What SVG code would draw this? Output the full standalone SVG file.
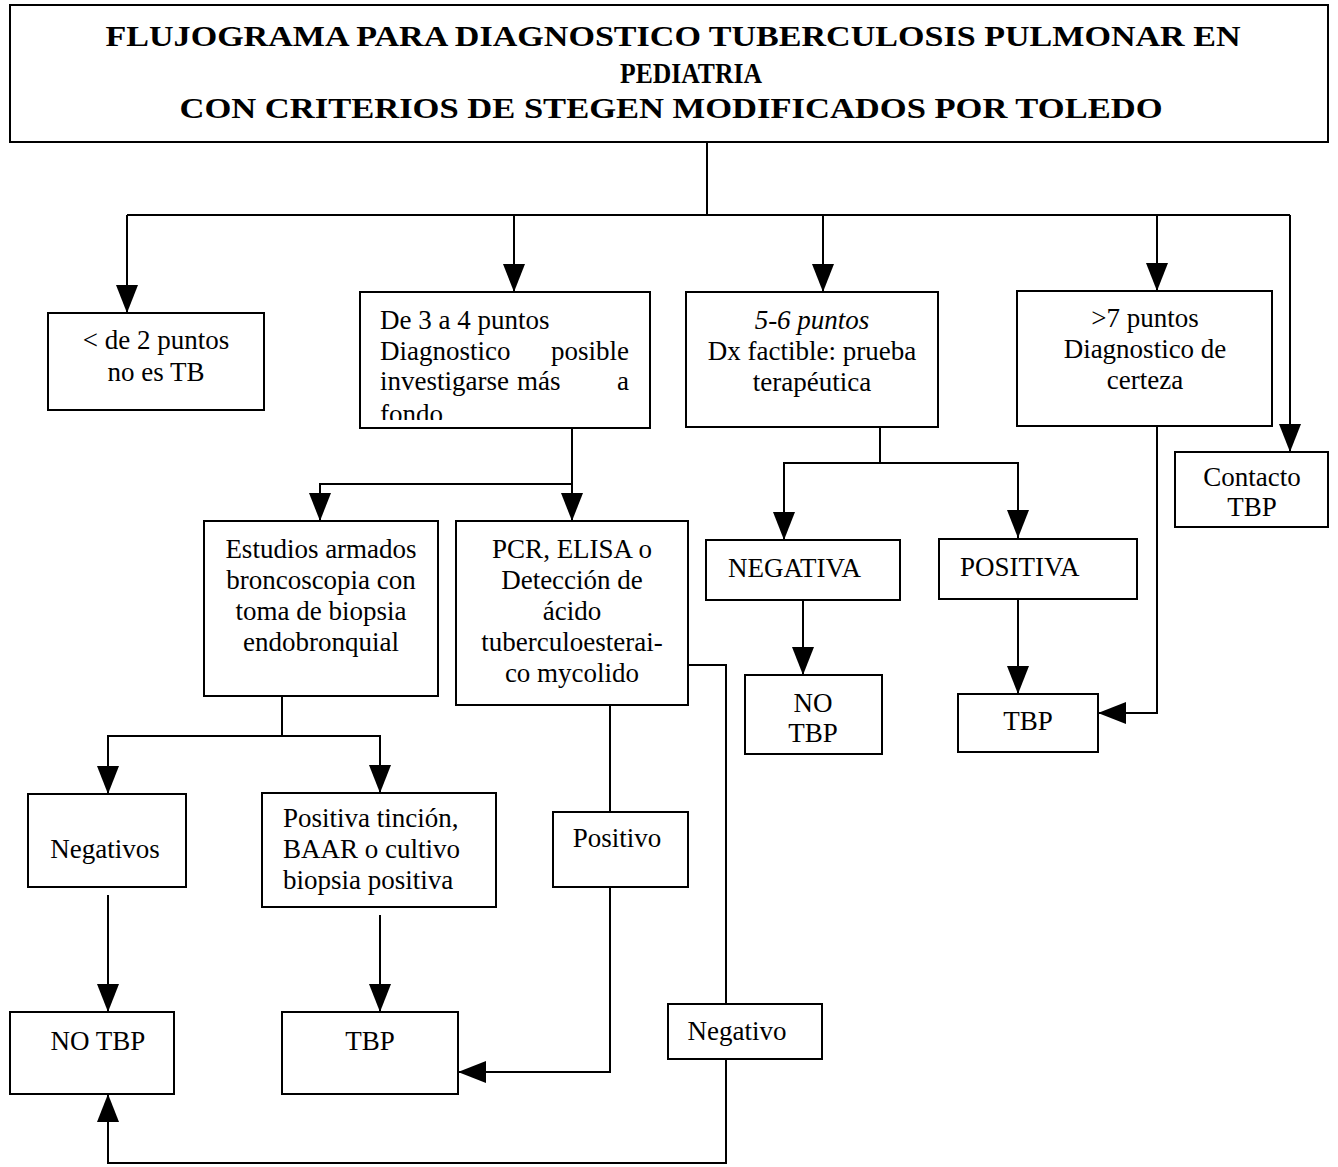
<svg xmlns="http://www.w3.org/2000/svg" width="1338" height="1167" viewBox="0 0 1338 1167">
<style>
.box{fill:#fff;stroke:#000;stroke-width:2}
.t{font-family:"Liberation Serif","Times New Roman",serif;font-size:27px;fill:#000}
.c{text-anchor:middle}
.title{font-family:"Liberation Serif","Times New Roman",serif;font-weight:bold;font-size:30px;fill:#000;text-anchor:middle}
.ln{fill:none;stroke:#000;stroke-width:2}
</style>
<defs>
<marker id="ar" viewBox="0 0 28 22" refX="28" refY="11" markerWidth="28" markerHeight="22" markerUnits="userSpaceOnUse" orient="auto">
<path d="M0,0 L28,11 L0,22 z" fill="#000"/>
</marker>
<clipPath id="clip2"><rect x="360" y="292" width="290" height="128"/></clipPath>
</defs>
<rect width="1338" height="1167" fill="#fff"/>

<g id="title">
<rect class="box" x="10" y="5" width="1318" height="137"/>
<text class="title" x="673" y="46" textLength="1135" lengthAdjust="spacingAndGlyphs">FLUJOGRAMA PARA DIAGNOSTICO TUBERCULOSIS PULMONAR EN</text>
<text class="title" x="691" y="83" textLength="142" lengthAdjust="spacingAndGlyphs">PEDIATRIA</text>
<text class="title" x="671" y="118" textLength="983" lengthAdjust="spacingAndGlyphs">CON CRITERIOS DE STEGEN MODIFICADOS POR TOLEDO</text>
</g>

<g id="connectors">
<path class="ln" d="M707,142 V215"/>
<path class="ln" d="M127,215 H1290"/>
<path class="ln" d="M127,215 V313" marker-end="url(#ar)"/>
<path class="ln" d="M514,215 V292" marker-end="url(#ar)"/>
<path class="ln" d="M823,215 V292" marker-end="url(#ar)"/>
<path class="ln" d="M1157,215 V291" marker-end="url(#ar)"/>
<path class="ln" d="M1290,215 V452" marker-end="url(#ar)"/>
<path class="ln" d="M572,428 V521" marker-end="url(#ar)"/>
<path class="ln" d="M572,484 H320 V521" marker-end="url(#ar)"/>
<path class="ln" d="M880,427 V463"/>
<path class="ln" d="M880,463 H784 V540" marker-end="url(#ar)"/>
<path class="ln" d="M880,463 H1018 V538" marker-end="url(#ar)"/>
<path class="ln" d="M803,600 V675" marker-end="url(#ar)"/>
<path class="ln" d="M1018,599 V694" marker-end="url(#ar)"/>
<path class="ln" d="M1157,426 V713 H1098" marker-end="url(#ar)"/>
<path class="ln" d="M282,696 V736"/>
<path class="ln" d="M282,736 H108 V794" marker-end="url(#ar)"/>
<path class="ln" d="M282,736 H380 V793" marker-end="url(#ar)"/>
<path class="ln" d="M108,895 V1012" marker-end="url(#ar)"/>
<path class="ln" d="M380,915 V1012" marker-end="url(#ar)"/>
<path class="ln" d="M610,705 V812"/>
<path class="ln" d="M610,887 V1072 H458" marker-end="url(#ar)"/>
<path class="ln" d="M688,665 H726 V1004"/>
<path class="ln" d="M726,1059 V1163 H108 V1094" marker-end="url(#ar)"/>
</g>

<g id="n-menos2">
<rect class="box" x="48" y="313" width="216" height="97"/>
<text class="t c" x="156" y="349">&lt; de 2 puntos</text>
<text class="t c" x="156" y="381">no es TB</text>
</g>

<g id="n-3a4">
<rect class="box" x="360" y="292" width="290" height="136"/>
<text class="t" x="380" y="329">De 3 a 4 puntos</text>
<text class="t" x="380" y="360">Diagnostico</text>
<text class="t" x="629" y="360" text-anchor="end">posible</text>
<text class="t" x="380" y="390">investigarse</text>
<text class="t" x="517" y="390">más</text>
<text class="t" x="629" y="390" text-anchor="end">a</text>
<text class="t" x="380" y="423" clip-path="url(#clip2)">fondo</text>
</g>

<g id="n-5a6">
<rect class="box" x="686" y="292" width="252" height="135"/>
<text class="t c" x="812" y="329" font-style="italic">5-6 puntos</text>
<text class="t c" x="812" y="360">Dx factible: prueba</text>
<text class="t c" x="812" y="391">terapéutica</text>
</g>

<g id="n-mas7">
<rect class="box" x="1017" y="291" width="255" height="135"/>
<text class="t c" x="1145" y="327">&gt;7 puntos</text>
<text class="t c" x="1145" y="358">Diagnostico de</text>
<text class="t c" x="1145" y="389">certeza</text>
</g>

<g id="n-contacto">
<rect class="box" x="1175" y="452" width="153" height="75"/>
<text class="t c" x="1252" y="486">Contacto</text>
<text class="t c" x="1252" y="516">TBP</text>
</g>

<g id="n-estudios">
<rect class="box" x="204" y="521" width="234" height="175"/>
<text class="t c" x="321" y="558">Estudios armados</text>
<text class="t c" x="321" y="589">broncoscopia con</text>
<text class="t c" x="321" y="620">toma de biopsia</text>
<text class="t c" x="321" y="651">endobronquial</text>
</g>

<g id="n-pcr">
<rect class="box" x="456" y="521" width="232" height="184"/>
<text class="t c" x="572" y="558">PCR, ELISA o</text>
<text class="t c" x="572" y="589">Detección de</text>
<text class="t c" x="572" y="620">ácido</text>
<text class="t c" x="572" y="651">tuberculoesterai-</text>
<text class="t c" x="572" y="682">co mycolido</text>
</g>

<g id="n-negativa">
<rect class="box" x="706" y="540" width="194" height="60"/>
<text class="t" x="728" y="577">NEGATIVA</text>
</g>

<g id="n-positiva">
<rect class="box" x="939" y="539" width="198" height="60"/>
<text class="t" x="960" y="576">POSITIVA</text>
</g>

<g id="n-notbp-right">
<rect class="box" x="745" y="675" width="137" height="79"/>
<text class="t c" x="813" y="712">NO</text>
<text class="t c" x="813" y="742">TBP</text>
</g>

<g id="n-tbp-right">
<rect class="box" x="958" y="694" width="140" height="58"/>
<text class="t c" x="1028" y="730">TBP</text>
</g>

<g id="n-negativos">
<rect class="box" x="28" y="794" width="158" height="93"/>
<text class="t c" x="105" y="858">Negativos</text>
</g>

<g id="n-positiva-tincion">
<rect class="box" x="262" y="793" width="234" height="114"/>
<text class="t" x="283" y="827">Positiva tinción,</text>
<text class="t" x="283" y="858">BAAR o cultivo</text>
<text class="t" x="283" y="889">biopsia positiva</text>
</g>

<g id="n-positivo">
<rect class="box" x="553" y="812" width="135" height="75"/>
<text class="t c" x="617" y="847">Positivo</text>
</g>

<g id="n-negativo">
<rect class="box" x="668" y="1004" width="154" height="55"/>
<text class="t c" x="737" y="1040">Negativo</text>
</g>

<g id="n-notbp-left">
<rect class="box" x="10" y="1012" width="164" height="82"/>
<text class="t c" x="98" y="1050">NO TBP</text>
</g>

<g id="n-tbp-left">
<rect class="box" x="282" y="1012" width="176" height="82"/>
<text class="t c" x="370" y="1050">TBP</text>
</g>
</svg>
